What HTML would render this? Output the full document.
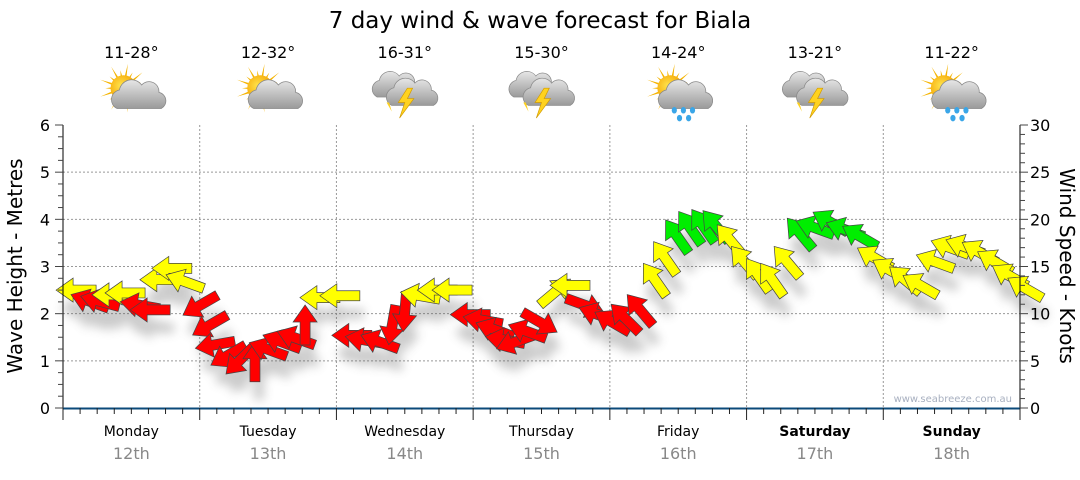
<!DOCTYPE html>
<html><head><meta charset="utf-8">
<style>
body{margin:0;background:#fff;font-family:"Liberation Sans","DejaVu Sans",sans-serif;}
svg text{font-family:"DejaVu Sans","Liberation Sans",sans-serif;}
</style></head>
<body>
<svg id="c" width="1080" height="475" viewBox="0 0 1080 475" xmlns="http://www.w3.org/2000/svg">
<defs>
<filter id="sh" x="-50%" y="-50%" width="200%" height="200%"><feGaussianBlur stdDeviation="5"/></filter>
<radialGradient id="sun" cx="0.4" cy="0.4" r="0.6"><stop offset="0" stop-color="#ffe44d"/><stop offset="1" stop-color="#f5a300"/></radialGradient>
<linearGradient id="cl" x1="0" y1="0" x2="0" y2="1"><stop offset="0" stop-color="#e6e6e6"/><stop offset="1" stop-color="#9a9a9a"/></linearGradient>
</defs>
<text x="540" y="28" text-anchor="middle" font-size="23" fill="#000">7 day wind &amp; wave forecast for Biala</text>
<g id="topg"></g>
<g id="grid"></g>
<g id="shadows" filter="url(#sh)" opacity="0.3"></g>
<g id="arrows"></g>
<g id="axes"></g>
<text x="1012" y="402" text-anchor="end" font-size="10" fill="#a8b0c0">www.seabreeze.com.au</text>
<text transform="translate(22,266) rotate(-90)" text-anchor="middle" font-size="20" fill="#000">Wave Height - Metres</text>
<text transform="translate(1060,266) rotate(90)" text-anchor="middle" font-size="20" fill="#000">Wind Speed - Knots</text>
</svg>
<script>
const days=["Monday","Tuesday","Wednesday","Thursday","Friday","Saturday","Sunday"];
const dates=["12th","13th","14th","15th","16th","17th","18th"];
const temps=["11-28°","12-32°","16-31°","15-30°","14-24°","13-21°","11-22°"];
const icons=["sun","sun","storm","storm","rain","storm","rain"];
const boldDays=[false,false,false,false,false,true,true];
const leftTicks=[0,1,2,3,4,5,6];
const rightTicks=[0,5,10,15,20,25,30];
const hours=[2.3,4.7,6.5,8.6,10.9,13.5,15.3,17,19.1,21.4,24.1,25.8,26.7,29,31.1,33.7,36,38.4,40.9,42.5,45.1,48.6,50.7,53,55.6,57.8,60,62.7,65.7,68.3,71.5,73.7,75.8,77.6,79.4,81.5,83.7,86.4,89,91.6,93.9,96.4,98.7,101.3,103.9,105.7,107.8,110.1,112.4,114.6,117.1,119.6,122,124.5,127.1,129.4,132,134.7,137.3,139.9,142.5,145.2,147.8,150.5,153.1,155.7,158.3,160.9,163.6,166.2,168.9];
const knots=[12.5,11.3,11.3,12.0,12.2,10.9,10.4,13.6,14.8,13.4,10.9,8.8,6.7,5.6,5.1,4.9,6.2,7.0,7.4,8.8,11.7,11.9,7.7,7.2,7.0,8.8,10.2,11.9,12.5,12.5,9.9,9.3,8.3,7.2,7.0,8.1,9.1,12.3,13.0,10.9,9.9,9.1,9.5,10.4,13.6,15.9,18.2,19.1,19.3,19.3,17.8,15.5,14.1,13.6,15.5,18.5,19.1,19.7,18.9,18.2,15.9,14.6,13.6,13.0,15.5,17.0,17.1,16.5,15.5,14.0,12.7];
const dirs=[180,200,195,180,180,190,180,180,180,200,150,150,170,150,135,270,200,200,200,270,180,180,180,190,200,100,95,190,180,180,180,190,200,190,160,200,30,320,180,20,200,210,225,230,235,235,235,235,235,230,230,230,235,235,230,230,200,210,200,210,210,210,220,210,200,200,200,210,210,210,210];

const NS="http://www.w3.org/2000/svg";
const X0=63,X1=1020,Y0=408,YT=125;
const xH=h=>X0+h/168*(X1-X0);
const yK=k=>Y0-k/30*(Y0-YT);
const yM=m=>Y0-m/6*(Y0-YT);
function mk(tag,attrs,parent){const e=document.createElementNS(NS,tag);for(const k in attrs)e.setAttribute(k,attrs[k]);parent.appendChild(e);return e;}
const grid=document.getElementById('grid'),axes=document.getElementById('axes'),topG=document.getElementById('topg');
leftTicks.forEach(m=>{if(m>0&&m<6){const l=mk('line',{x1:X0,x2:X1,y1:yM(m),y2:yM(m),stroke:'#999','stroke-dasharray':'2,2','stroke-width':1},grid);

}});
for(let d=1;d<7;d++){const l=mk('line',{x1:xH(d*24),x2:xH(d*24),y1:YT,y2:Y0,stroke:'#999','stroke-dasharray':'2,2','stroke-width':1},grid);

}
mk('line',{x1:X0,x2:X0,y1:YT,y2:Y0,stroke:'#000'},axes);
mk('line',{x1:X1,x2:X1,y1:YT,y2:Y0,stroke:'#000'},axes);
mk('line',{x1:X0,x2:X1,y1:Y0+0.5,y2:Y0+0.5,stroke:'#0b4a7a','stroke-width':2},axes);
for(let i=0;i<=24;i++){const y=yM(i/4);mk('line',{x1:X0-(i%4?5:8),x2:X0,y1:y,y2:y,stroke:'#444'},axes);}
for(let i=0;i<=30;i++){const y=yK(i);mk('line',{x1:X1,x2:X1+(i%5?5:8),y1:y,y2:y,stroke:'#444'},axes);}
for(let i=0;i<=56;i++){const x=xH(i*3);mk('line',{x1:x,x2:x,y1:Y0,y2:Y0+(i%8?6:12),stroke:'#222'},axes);}
leftTicks.forEach(m=>{const t=mk('text',{x:X0-13,y:yM(m)+6,'text-anchor':'end','font-size':16,fill:'#000'},axes);t.textContent=m;

});
rightTicks.forEach(k=>{const t=mk('text',{x:X1+10,y:yK(k)+6,'font-size':16,fill:'#000'},axes);t.textContent=k;

});
function cloud(g,x,y,s){const c=mk('g',{transform:`translate(${x},${y}) scale(${s})`},g);
mk('path',{d:'M-18,8 a8,8 0 0 1 2,-15 a10,10 0 0 1 18,-4 a8,8 0 0 1 14,6 a7,7 0 0 1 2,13 z',fill:'url(#cl)',stroke:'#888','stroke-width':0.6},c);}
function drawIcon(type,cx,cy){const outer=mk('g',{transform:`translate(${cx},${cy}) scale(1.3)`},topG);


const g=outer;cx=0;cy=0;
if(type==='sun'||type==='rain'){const sx=cx-6,sy=cy-6;
for(let a=0;a<360;a+=20){const r=a*Math.PI/180,L=(a%40?14:19);mk('polygon',{points:`${sx+Math.cos(r+0.1)*8},${sy+Math.sin(r+0.1)*8} ${sx+Math.cos(r)*L},${sy+Math.sin(r)*L} ${sx+Math.cos(r-0.1)*8},${sy+Math.sin(r-0.1)*8}`,fill:'#f5b400'},g);}
mk('circle',{cx:sx,cy:sy,r:10,fill:'url(#sun)'},g);
cloud(g,cx+6,cy+2,0.95);
if(type==='rain'){[[-3,11],[4,11],[11,11],[1,17],[8,17]].forEach(p=>mk('ellipse',{cx:cx+p[0],cy:cy+p[1],rx:2,ry:2.5,fill:'#3aa6e8'},g));}
}else{cloud(g,cx-6,cy-6,0.85);cloud(g,cx+6,cy,0.9);
mk('polygon',{points:`${cx+2},${cy-6} ${cx-5},${cy+5} ${cx},${cy+5} ${cx-4},${cy+17} ${cx+7},${cy+2} ${cx+2},${cy+2} ${cx+6},${cy-6}`,fill:'#ffd21f',stroke:'#d19a00','stroke-width':0.5},g);
mk('polygon',{points:`${cx-14},${cy+5} ${cx-10},${cy+12} ${cx-12},${cy+5}`,fill:'#ffd21f'},g);}}
days.forEach((d,i)=>{const cx=xH(i*24+12);
const t=mk('text',{x:cx,y:436,'text-anchor':'middle','font-size':14,fill:'#000','font-weight':boldDays[i]?'bold':'normal'},axes);t.textContent=d;


const t2=mk('text',{x:cx,y:459,'text-anchor':'middle','font-size':16,fill:'#888'},axes);t2.textContent=dates[i];


const t3=mk('text',{x:cx,y:58,'text-anchor':'middle','font-size':16,fill:'#000'},topG);t3.textContent=temps[i];


drawIcon(icons[i],cx,96);});
const AP='M20,0 L3,-12 L3,-5 L-20,-5 L-20,5 L3,5 L3,12 Z';
const ag=document.getElementById('arrows'),sg=document.getElementById('shadows');
function colour(k){return k<11.6?'#ff0000':(k<18?'#ffff00':'#00ee00');}
hours.forEach((h,i)=>{const x=xH(h),y=yK(knots[i]);
mk('path',{d:AP,fill:'#555',transform:`translate(${x+4},${y+18}) rotate(${dirs[i]})`},sg);
const p=mk('path',{d:AP,fill:colour(knots[i]),stroke:'#444','stroke-width':0.7,transform:`translate(${x},${y}) rotate(${dirs[i]})`},ag);

});
</script>
</body></html>
